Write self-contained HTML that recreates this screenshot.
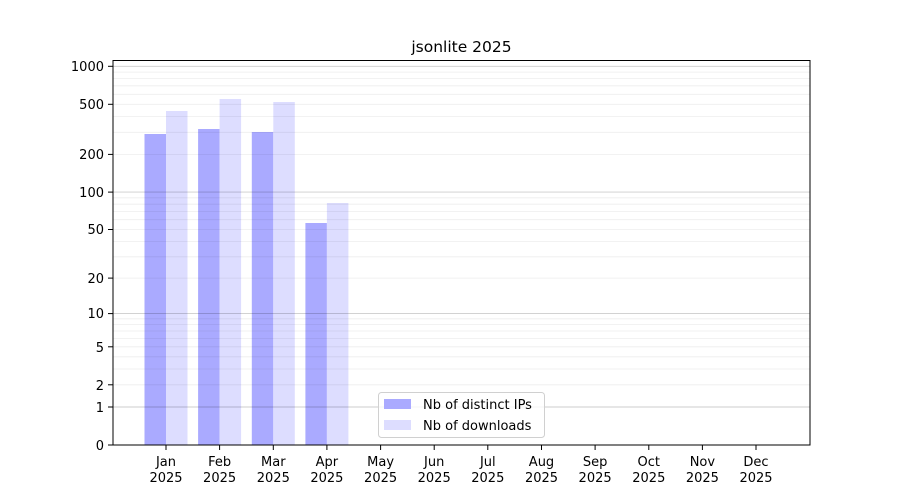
<!DOCTYPE html>
<html><head><meta charset="utf-8"><style>body{margin:0;background:#fff}svg{display:block}text{font-family:"DejaVu Sans","Liberation Sans",sans-serif;fill:#000}</style></head>
<body>
<svg width="900" height="500" xmlns="http://www.w3.org/2000/svg">
<rect width="900" height="500" fill="#fff"/>
<g fill="#aaaaff">
<rect x="144.5" y="134" width="21.5" height="311"/>
<rect x="198.1" y="129" width="21.5" height="316"/>
<rect x="251.8" y="132" width="21.5" height="313"/>
<rect x="305.4" y="223" width="21.5" height="222"/>
</g>
<g fill="#ddddff">
<rect x="166" y="111" width="21.5" height="334"/>
<rect x="219.6" y="99" width="21.5" height="346"/>
<rect x="273.3" y="102" width="21.5" height="343"/>
<rect x="326.9" y="203" width="21.5" height="242"/>
</g>
<g stroke="#000" stroke-opacity="0.07" stroke-width="0.8">
<line x1="113" x2="810" y1="384.8" y2="384.8"/><line x1="113" x2="810" y1="369" y2="369"/><line x1="113" x2="810" y1="356.8" y2="356.8"/><line x1="113" x2="810" y1="346.8" y2="346.8"/><line x1="113" x2="810" y1="338.4" y2="338.4"/><line x1="113" x2="810" y1="331" y2="331"/><line x1="113" x2="810" y1="324.6" y2="324.6"/><line x1="113" x2="810" y1="318.8" y2="318.8"/>
<line x1="113" x2="810" y1="278.1" y2="278.1"/><line x1="113" x2="810" y1="256.8" y2="256.8"/><line x1="113" x2="810" y1="241.5" y2="241.5"/><line x1="113" x2="810" y1="229.5" y2="229.5"/><line x1="113" x2="810" y1="219.7" y2="219.7"/><line x1="113" x2="810" y1="211.4" y2="211.4"/><line x1="113" x2="810" y1="204.2" y2="204.2"/><line x1="113" x2="810" y1="197.8" y2="197.8"/>
<line x1="113" x2="810" y1="154.4" y2="154.4"/><line x1="113" x2="810" y1="132.3" y2="132.3"/><line x1="113" x2="810" y1="116.5" y2="116.5"/><line x1="113" x2="810" y1="104.3" y2="104.3"/><line x1="113" x2="810" y1="94.3" y2="94.3"/><line x1="113" x2="810" y1="85.8" y2="85.8"/><line x1="113" x2="810" y1="78.5" y2="78.5"/><line x1="113" x2="810" y1="72.1" y2="72.1"/>
</g>
<g stroke="#000" stroke-opacity="0.2" stroke-width="0.9">
<line x1="113" x2="810" y1="407" y2="407"/><line x1="113" x2="810" y1="313.6" y2="313.6"/><line x1="113" x2="810" y1="192.1" y2="192.1"/><line x1="113" x2="810" y1="66.3" y2="66.3"/>
</g>
<rect x="113" y="60.5" width="697" height="384.5" fill="none" stroke="#000" stroke-width="1"/>
<g stroke="#000" stroke-width="1">
<line x1="108" x2="113" y1="445" y2="445"/><line x1="108" x2="113" y1="407" y2="407"/><line x1="108" x2="113" y1="384.8" y2="384.8"/><line x1="108" x2="113" y1="346.8" y2="346.8"/><line x1="108" x2="113" y1="313.6" y2="313.6"/><line x1="108" x2="113" y1="278.1" y2="278.1"/><line x1="108" x2="113" y1="229.5" y2="229.5"/><line x1="108" x2="113" y1="192.1" y2="192.1"/><line x1="108" x2="113" y1="154.4" y2="154.4"/><line x1="108" x2="113" y1="104.3" y2="104.3"/><line x1="108" x2="113" y1="66.3" y2="66.3"/>
</g>
<g font-size="13" text-anchor="end">
<text x="104" y="450">0</text><text x="104" y="412">1</text><text x="104" y="390">2</text><text x="104" y="352">5</text><text x="104" y="318">10</text><text x="104" y="283">20</text><text x="104" y="234">50</text><text x="104" y="197">100</text><text x="104" y="159">200</text><text x="104" y="109">500</text><text x="104" y="71">1000</text>
</g>
<g stroke="#000" stroke-width="1">
<line x1="166" x2="166" y1="445" y2="450"/><line x1="219.6" x2="219.6" y1="445" y2="450"/><line x1="273.3" x2="273.3" y1="445" y2="450"/><line x1="326.9" x2="326.9" y1="445" y2="450"/><line x1="380.6" x2="380.6" y1="445" y2="450"/><line x1="434.2" x2="434.2" y1="445" y2="450"/><line x1="487.8" x2="487.8" y1="445" y2="450"/><line x1="541.5" x2="541.5" y1="445" y2="450"/><line x1="595.1" x2="595.1" y1="445" y2="450"/><line x1="648.8" x2="648.8" y1="445" y2="450"/><line x1="702.4" x2="702.4" y1="445" y2="450"/><line x1="756" x2="756" y1="445" y2="450"/>
</g>
<g font-size="13" text-anchor="middle">
<text x="166" y="466">Jan</text><text x="166" y="482">2025</text>
<text x="219.6" y="466">Feb</text><text x="219.6" y="482">2025</text>
<text x="273.3" y="466">Mar</text><text x="273.3" y="482">2025</text>
<text x="326.9" y="466">Apr</text><text x="326.9" y="482">2025</text>
<text x="380.6" y="466">May</text><text x="380.6" y="482">2025</text>
<text x="434.2" y="466">Jun</text><text x="434.2" y="482">2025</text>
<text x="487.8" y="466">Jul</text><text x="487.8" y="482">2025</text>
<text x="541.5" y="466">Aug</text><text x="541.5" y="482">2025</text>
<text x="595.1" y="466">Sep</text><text x="595.1" y="482">2025</text>
<text x="648.8" y="466">Oct</text><text x="648.8" y="482">2025</text>
<text x="702.4" y="466">Nov</text><text x="702.4" y="482">2025</text>
<text x="756" y="466">Dec</text><text x="756" y="482">2025</text>
</g>
<text x="461.5" y="52" font-size="15.5" text-anchor="middle">jsonlite 2025</text>
<rect x="378.5" y="392.5" width="166" height="45" rx="3" fill="#fff" fill-opacity="0.8" stroke="#d0d0d0"/>
<rect x="384" y="399" width="27" height="10" fill="#aaaaff"/>
<rect x="384" y="420" width="27" height="10" fill="#ddddff"/>
<text x="423" y="409" font-size="13">Nb of distinct IPs</text>
<text x="423" y="430" font-size="13">Nb of downloads</text>
</svg>
</body></html>
